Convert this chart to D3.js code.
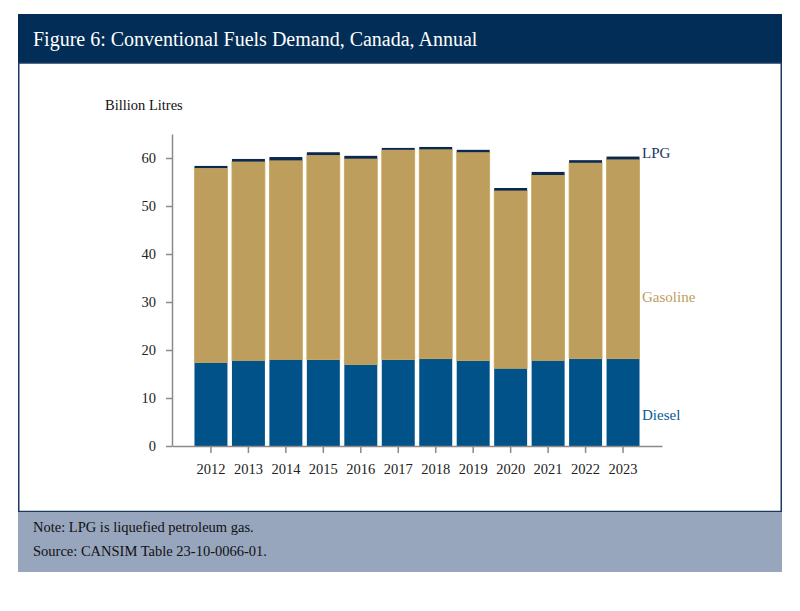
<!DOCTYPE html>
<html>
<head>
<meta charset="utf-8">
<script src="https://cdn.jsdelivr.net/npm/d3@7"></script>
<style>
  body { margin: 0; background: #fff; }
  svg text { font-family: "Liberation Serif", "DejaVu Serif", serif; }
</style>
</head>
<body>
<svg id="chart" width="800" height="611"></svg>
<script>
// values (billion litres)
let years = ['2012', '2013', '2014', '2015', '2016', '2017', '2018', '2019', '2020', '2021', '2022', '2023'];
let diesel = [17.4, 17.85, 18.05, 18.0, 17.0, 18.0, 18.2, 17.8, 16.2, 17.85, 18.2, 18.2];
let gasoline = [40.5, 41.4, 41.45, 42.6, 42.85, 43.7, 43.6, 43.4, 37.0, 38.6, 40.8, 41.5];
let lpg = [0.45, 0.55, 0.7, 0.6, 0.6, 0.4, 0.5, 0.5, 0.55, 0.65, 0.55, 0.6];
let yTicks = [0, 10, 20, 30, 40, 50, 60];
let seriesNames = ['Diesel', 'Gasoline', 'LPG'];

let colors = { Diesel: '#02528a', Gasoline: '#bd9e5d', LPG: '#0b2850' };
let labelColors = { Diesel: '#0a5a96', Gasoline: '#bd9e5d', LPG: '#1a3561' };

let svg = d3.select('#chart');

// frame: title bar, white panel, footer
svg.append('rect').attr('x', 18).attr('y', 14).attr('width', 764).attr('height', 50).attr('fill', '#022d56');
svg.append('rect').attr('x', 18.75).attr('y', 63).attr('width', 762.5).attr('height', 448.5)
    .attr('fill', '#fff').attr('stroke', '#1b3a63').attr('stroke-width', 1.5);
svg.append('rect').attr('x', 18).attr('y', 512).attr('width', 764).attr('height', 60).attr('fill', '#97a5bd');

svg.append('text').attr('x', 33).attr('y', 46).attr('fill', '#fff').style('font-size', '20px')
    .text('Figure 6: Conventional Fuels Demand, Canada, Annual');

svg.append('text').attr('x', 33).attr('y', 532).attr('fill', '#111').style('font-size', '14.5px')
    .text('Note: LPG is liquefied petroleum gas.');
svg.append('text').attr('x', 33).attr('y', 556).attr('fill', '#111').style('font-size', '14.5px')
    .text('Source: CANSIM Table 23-10-0066-01.');

// chart
let data = years.map((y, i) => ({ year: y, Diesel: diesel[i], Gasoline: gasoline[i], LPG: lpg[i] }));
let stacked = d3.stack().keys(seriesNames)(data);

let xScale = d3.scaleBand()
    .domain(years)
    .range([172, 662])
    .paddingInner(0.12)
    .paddingOuter(0.6);

let yScale = d3.scaleLinear()
    .domain([0, 65])
    .range([446, 134]);

let g = svg.append('g');

g.selectAll('.layer')
    .data(stacked)
    .enter().append('g')
    .attr('class', 'layer')
    .attr('fill', d => colors[d.key])
    .attr('stroke', d => d.key === 'Gasoline' ? '#c9a556' : 'none')
    .attr('stroke-width', 0.8)
    .selectAll('rect')
    .data(d => d)
    .enter().append('rect')
    .attr('x', d => xScale(d.data.year))
    .attr('y', d => yScale(d[1]))
    .attr('width', xScale.bandwidth())
    .attr('height', d => yScale(d[0]) - yScale(d[1]));

let yAxis = d3.axisLeft(yScale).tickValues(yTicks).tickSize(6).tickSizeOuter(0).tickPadding(10);
let xAxis = d3.axisBottom(xScale).tickSize(7).tickSizeOuter(0).tickPadding(11);

let ya = g.append('g').attr('class', 'y-axis').attr('transform', 'translate(172,0)').call(yAxis);
let xa = g.append('g').attr('class', 'x-axis').attr('transform', 'translate(0,446)').call(xAxis);

[ya, xa].forEach(a => {
    a.select('.domain').attr('stroke', '#8a8a8a').attr('stroke-width', 1.5);
    a.selectAll('.tick line').attr('stroke', '#8a8a8a').attr('stroke-width', 1.5);
    a.selectAll('.tick text').attr('fill', '#222').style('font-size', '14.5px')
        .style('font-family', '"Liberation Serif", serif');
});

svg.append('text').attr('x', 105).attr('y', 110).attr('fill', '#111').style('font-size', '14.5px')
    .text('Billion Litres');

// series labels on the right
let labelY = { LPG: 158, Gasoline: 302, Diesel: 420 };
seriesNames.forEach(k => {
    svg.append('text').attr('x', 642).attr('y', labelY[k]).attr('fill', labelColors[k])
        .style('font-size', '15px').text(k);
});
</script>
</body>
</html>
